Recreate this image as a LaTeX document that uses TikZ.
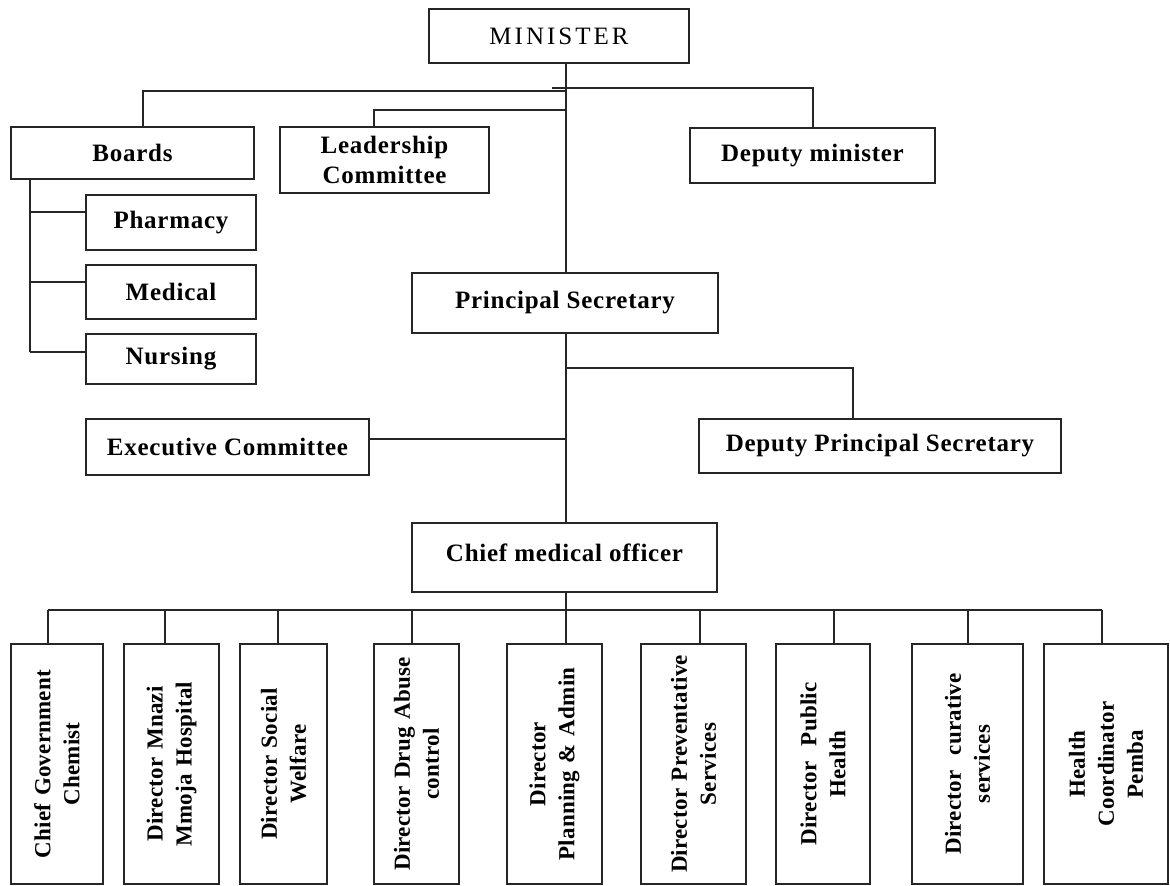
\documentclass[tikz,border=0pt]{standalone}
\usepackage{fontspec}
\setmainfont[LetterSpace=3]{Liberation Serif}
\newfontfamily\minfont[LetterSpace=12]{Liberation Serif}
\newfontfamily\vfont[LetterSpace=1]{Liberation Serif}
\begin{document}
\begin{tikzpicture}[x=1pt,y=-1pt,
  box/.style={draw=black!85, line width=1.5pt, fill=white, inner sep=0pt, align=center,
    font=\fontsize{25}{30}\selectfont\bfseries},
  conn/.style={draw=black!85, line width=1.5pt},
  vbox/.style={box, rotate=90, minimum width=240pt, text width=236pt,
    font=\fontsize{23}{29}\selectfont\vfont\bfseries}]
\useasboundingbox (0,0) rectangle (1170,886);
% top level
\node[box, minimum width=260pt, minimum height=54pt, font=\fontsize{25}{30}\selectfont\minfont] (min) at (559,36) {MINISTER};
\node[box, minimum width=243pt, minimum height=52pt] (boards) at (132.5,153) {Boards};
\node[box, minimum width=209pt, minimum height=66pt] (lead) at (384.5,160) {Leadership\\Committee};
\node[box, minimum width=245pt, minimum height=55pt] (dep) at (812.5,155.5) {Deputy minister};
\node[box, minimum width=170pt, minimum height=55pt] (pharm) at (171,222.5) {Pharmacy};
\node[box, minimum width=170pt, minimum height=54pt] (med) at (171,292) {Medical};
\node[box, minimum width=170pt, minimum height=50pt] (nurs) at (171,359) {Nursing};
\node[box, minimum width=306pt, minimum height=60pt] (ps) at (565,303) {\raisebox{3pt}{Principal Secretary}};
\node[box, minimum width=283pt, minimum height=56pt] (exec) at (227.5,447) {Executive Committee};
\node[box, minimum width=362pt, minimum height=54pt] (dps) at (880,446) {Deputy Principal Secretary};
\node[box, minimum width=305pt, minimum height=69pt] (cmo) at (564.5,557.5) {\raisebox{9pt}{Chief medical officer}};
% bottom row
\node[vbox, minimum height=92pt] (cgc) at (57,764) {Chief Government\\Chemist};
\node[vbox, minimum height=95pt] (mnazi) at (171.5,764) {Director Mnazi\\Mmoja Hospital};
\node[vbox, minimum height=87pt] (social) at (283.5,764) {Director Social\\Welfare};
\node[vbox, minimum height=85pt] (drug) at (416.5,764) {Director Drug Abuse\\control};
\node[vbox, minimum height=95pt] (plan) at (554.5,764) {Director\\Planning \& Admin};
\node[vbox, minimum height=105pt] (prev) at (693.5,764) {Director Preventative\\Services};
\node[vbox, minimum height=94pt] (pub) at (823,764) {Director~~Public\\Health};
\node[vbox, minimum height=111pt] (cur) at (967.5,764) {Director~~curative\\services};
\node[vbox, minimum height=124pt] (pemba) at (1106,764) {Health\\Coordinator\\Pemba};
% junction coordinates
\coordinate (trunk) at (566,0);
\coordinate (dj) at (552,88);
\coordinate (dd) at (813,88);
\coordinate (bj) at (566,91);
\coordinate (bd) at (143,91);
\coordinate (lj) at (566,110);
\coordinate (ld) at (374,110);
\coordinate (bs) at (30,0);
\coordinate (p1) at (30,212);
\coordinate (p2) at (30,282);
\coordinate (p3) at (30,352);
\coordinate (dpj) at (566,368);
\coordinate (dpd) at (853,368);
\coordinate (ej) at (566,439);
\coordinate (b1) at (48,610);
\coordinate (b2) at (165,610);
\coordinate (b3) at (278,610);
\coordinate (b4) at (412,610);
\coordinate (b5) at (566,610);
\coordinate (b6) at (700,610);
\coordinate (b7) at (834,610);
\coordinate (b8) at (968,610);
\coordinate (b9) at (1102,610);
% connectors
\draw[conn] (min.south -| trunk) -- (ps.north -| trunk);
\draw[conn] (ps.south -| trunk) -- (cmo.north -| trunk);
\draw[conn] (cmo.south -| trunk) -- (b5);
\draw[conn] (dj) -- (dd) -- (dd |- dep.north);
\draw[conn] (bj) -- (bd) -- (bd |- boards.north);
\draw[conn] (lj) -- (ld) -- (ld |- lead.north);
\draw[conn] (bs |- boards.south) -- (p3);
\draw[conn] (p1) -- (p1 -| pharm.west);
\draw[conn] (p2) -- (p2 -| med.west);
\draw[conn] (p3) -- (p3 -| nurs.west);
\draw[conn] (dpj) -- (dpd) -- (dpd |- dps.north);
\draw[conn] (ej) -- (ej -| exec.east);
\draw[conn] (b1) -- (b9);
\draw[conn] (b1) -- (b1 |- cgc.east);
\draw[conn] (b2) -- (b2 |- mnazi.east);
\draw[conn] (b3) -- (b3 |- social.east);
\draw[conn] (b4) -- (b4 |- drug.east);
\draw[conn] (b5) -- (b5 |- plan.east);
\draw[conn] (b6) -- (b6 |- prev.east);
\draw[conn] (b7) -- (b7 |- pub.east);
\draw[conn] (b8) -- (b8 |- cur.east);
\draw[conn] (b9) -- (b9 |- pemba.east);
\end{tikzpicture}
\end{document}
